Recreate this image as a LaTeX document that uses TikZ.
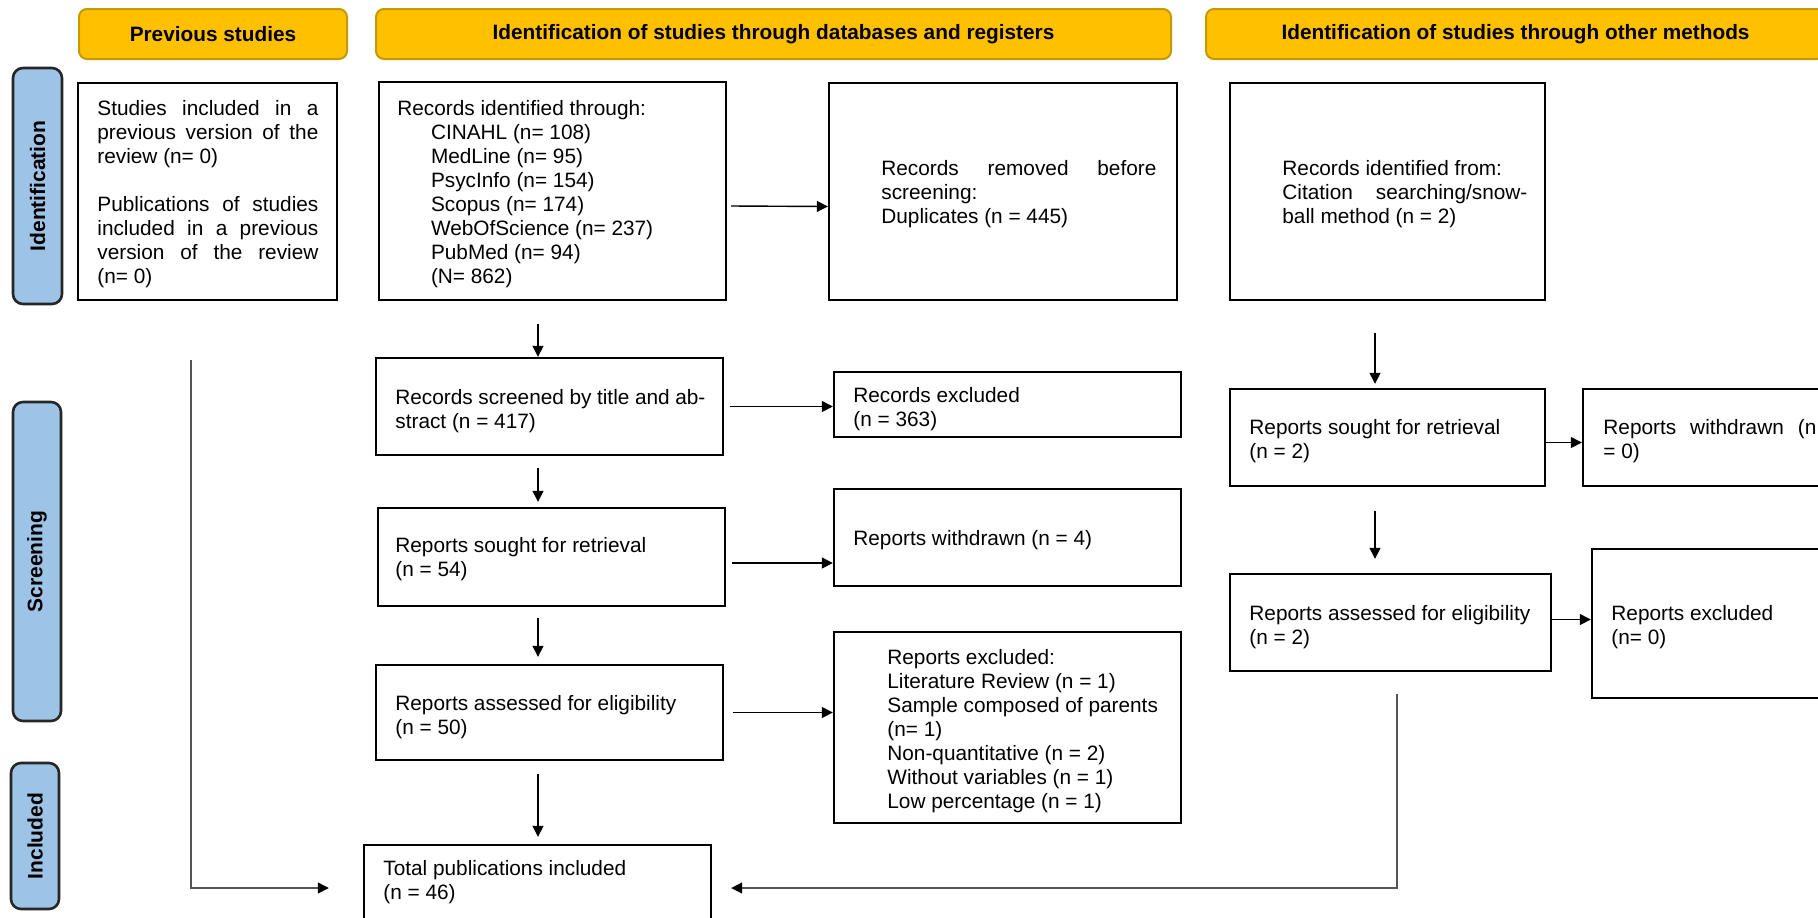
\documentclass[tikz,border=0pt]{standalone}
\usepackage{fontspec}
\setmainfont{Liberation Sans}
\usetikzlibrary{arrows.meta,calc,fit}
\definecolor{hdr}{HTML}{FFC000}
\definecolor{hdrline}{HTML}{C49A00}
\definecolor{sidefill}{HTML}{9DC3E6}
\definecolor{byp}{HTML}{555555}
\tikzset{
  box/.style={draw=black, line width=1.2pt, inner sep=0pt},
  txt/.style={anchor=north west, inner sep=0pt, font=\fontsize{10.4pt}{12pt}\selectfont, align=left},
  jtxt/.style={txt, align=justify},
  hdrbox/.style={draw=hdrline, fill=hdr, line width=1pt, rounded corners=4pt, inner sep=0pt, minimum height=25pt, font=\fontsize{10.4pt}{12pt}\selectfont\bfseries},
  sidebox/.style={draw=black!85, fill=sidefill, line width=1.3pt, rounded corners=5pt, inner sep=0pt, rotate=90, font=\fontsize{10.5pt}{12pt}\selectfont\bfseries},
  arr/.style={-{Triangle[length=5.5pt,width=5.5pt]}, line width=0.7pt},
  bypass/.style={draw=byp, line width=0.6pt, -{Triangle[length=5.5pt,width=5.5pt,black]}}
}
\begin{document}
\begin{tikzpicture}[x=0.5pt,y=-0.5pt]
\useasboundingbox (0,0) rectangle (1818,917);
\clip (0,0) rectangle (1818,917);
% headers
\node[hdrbox, minimum width=134pt] (h1) at (213,34) {Previous studies};
\node[hdrbox, minimum width=397.5pt] (h2) at (773.5,34) {Identification of studies through databases and registers};
\node[hdrbox, minimum width=309.5pt] (h3) at (1515.5,34) {Identification of studies through other methods};
% side labels
\node[sidebox, minimum width=118pt, minimum height=24.5pt] (sI) at (37.5,186) {Identification};
\node[sidebox, minimum width=159.5pt, minimum height=24pt] (sS) at (37,561.5) {Screening};
\node[sidebox, minimum width=73pt, minimum height=24pt] (sN) at (35,836) {Included};
% boxes
\node[box, fit={(78,83) (337,300)}] (prev) {};
\node[box, fit={(379,82) (726,300)}] (recid) {};
\node[box, fit={(829,83) (1177,300)}] (removed) {};
\node[box, fit={(1230,83) (1545,300)}] (otherid) {};
\node[box, fit={(376,358) (723,455)}] (screened) {};
\node[box, fit={(834,372) (1181,437)}] (excla) {};
\node[box, fit={(378,508) (725,606)}] (sought) {};
\node[box, fit={(834,489) (1181,586)}] (withd) {};
\node[box, fit={(376,665) (723,760)}] (assessed) {};
\node[box, fit={(834,632) (1181,823)}] (exclb) {};
\node[box, fit={(364,845) (711,940)}] (total) {};
\node[box, fit={(1230,389) (1545,486)}] (soughtb) {};
\node[box, fit={(1583,389) (1840,486)}] (withdb) {};
\node[box, fit={(1230,574) (1551,671)}] (assessedb) {};
\node[box, fit={(1592,549) (1840,698)}] (exclc) {};
% texts
\node[jtxt, text width=110.5pt] (prevT) at (97,100) {Studies included in a\linebreak previous version of the\linebreak review (n= 0)\par\vspace{12pt}Publications of studies\linebreak included in a previous\linebreak version of the review\linebreak (n= 0)};
\node[txt] (recidT) at (397,100) {Records identified through:\\
\hspace*{16.8pt}CINAHL (n= 108)\\
\hspace*{16.8pt}MedLine (n= 95)\\
\hspace*{16.8pt}PsycInfo (n= 154)\\
\hspace*{16.8pt}Scopus (n= 174)\\
\hspace*{16.8pt}WebOfScience (n= 237)\\
\hspace*{16.8pt}PubMed (n= 94)\\
\hspace*{16.8pt}(N= 862)};
\node[jtxt, text width=137.5pt] (removedT) at (881,160) {Records removed before\linebreak screening:\newline Duplicates (n = 445)};
\node[jtxt, text width=122.5pt] (otheridT) at (1282,160) {Records identified from:\newline Citation searching/snow-\linebreak ball method (n = 2)};
\node[jtxt, text width=155pt] (screenedT) at (395,389) {Records screened by title and ab-\linebreak stract (n = 417)};
\node[txt] (exclaT) at (853,387) {Records excluded\\(n = 363)};
\node[txt] (soughtT) at (395,537) {Reports sought for retrieval\\(n = 54)};
\node[txt] (withdT) at (853,530) {Reports withdrawn (n = 4)};
\node[txt] (assessedT) at (395,695) {Reports assessed for eligibility\\(n = 50)};
\node[txt] (exclbT) at (887,649) {Reports excluded:\\Literature Review (n = 1)\\Sample composed of parents\\(n= 1)\\Non-quantitative (n = 2)\\Without variables (n = 1)\\Low percentage (n = 1)};
\node[txt] (totalT) at (383,860) {Total publications included\\(n = 46)};
\node[txt] (soughtbT) at (1249,419) {Reports sought for retrieval\\(n = 2)};
\node[jtxt, text width=106.5pt] (withdbT) at (1603,419) {Reports withdrawn (n\linebreak = 0)};
\node[txt] (assessedbT) at (1249,605) {Reports assessed for eligibility\\(n = 2)};
\node[txt] (exclcT) at (1611,605) {Reports excluded\\(n= 0)};
% column coordinates
\coordinate (cb) at (538,0);
\coordinate (cc) at (1375,0);
% vertical arrows
\draw[arr] ($(recid.south -| cb)+(0,23)$) -- (screened.north -| cb);
\draw[arr] ($(screened.south -| cb)+(0,12)$) -- ($(sought.north -| cb)+(0,-5)$);
\draw[arr] ($(sought.south -| cb)+(0,11)$) -- ($(assessed.north -| cb)+(0,-7)$);
\draw[arr] ($(assessed.south -| cb)+(0,13)$) -- ($(total.north -| cb)+(0,-7)$);
\draw[arr] ($(otherid.south -| cc)+(0,32)$) -- ($(soughtb.north -| cc)+(0,-4)$);
\draw[arr] ($(soughtb.south -| cc)+(0,24)$) -- ($(assessedb.north -| cc)+(0,-14)$);
% horizontal arrows
\draw[arr] ($(recid.east)+(4,15)$) -- ($(removed.west)+(0,15)$);
\draw[arr] ($(screened.east)+(6,0)$) -- (screened.east -| excla.west);
\draw[arr] ($(sought.east)+(6,6)$) -- ($(sought.east -| withd.west)+(0,6)$);
\draw[arr] ($(assessed.east)+(9,0)$) -- (assessed.east -| exclb.west);
\draw[arr] ($(soughtb.east)+(0,5)$) -- ($(soughtb.east -| withdb.west)+(0,5)$);
\draw[arr] ($(assessedb.east)+(0,-3)$) -- ($(assessedb.east -| exclc.west)+(0,-3)$);
% bypass connectors
\coordinate (lb) at (191,360);
\coordinate (rb) at (1397,694);
\draw[bypass] (lb) |- ($(total.west)+(-34,-4.5)$);
\draw[bypass] (rb) |- ($(total.east)+(19,-4.5)$);
\end{tikzpicture}
\end{document}
